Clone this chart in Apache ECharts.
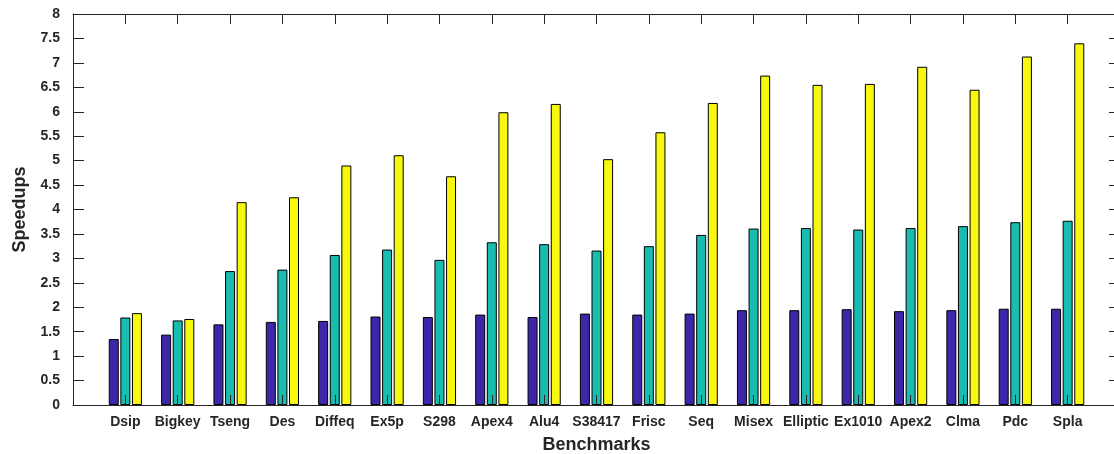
<!DOCTYPE html>
<html>
<head>
<meta charset="utf-8">
<script src="https://cdn.jsdelivr.net/npm/echarts@6/dist/echarts.min.js"></script>
<style>html,body{margin:0;padding:0;background:#fff;}#c{width:1114px;height:454px;}</style>
</head>
<body>
<div id="c"></div>
<script>
const categories = ['Dsip','Bigkey','Tseng','Des','Diffeq','Ex5p','S298','Apex4','Alu4','S38417','Frisc','Seq','Misex','Elliptic','Ex1010','Apex2','Clma','Pdc','Spla'];
const seriesA = [1.35,1.44,1.65,1.70,1.72,1.81,1.80,1.85,1.80,1.87,1.85,1.87,1.94,1.94,1.96,1.92,1.94,1.97,1.97];
const seriesB = [1.79,1.73,2.74,2.77,3.07,3.18,2.97,3.33,3.29,3.16,3.25,3.48,3.61,3.62,3.59,3.62,3.66,3.74,3.77];
const seriesC = [1.88,1.76,4.15,4.25,4.90,5.11,4.68,5.99,6.16,5.03,5.58,6.18,6.74,6.55,6.57,6.92,6.45,7.13,7.40];
const xTitle = 'Benchmarks';
const yTitle = 'Speedups';

// pad one empty slot on each side (x range 0..20, bars at 1..19)
const cats = [''].concat(categories, ['']);
const pad = arr => [null].concat(arr, [null]);

const axisColor = '#262626';
const font = 'Liberation Sans, Arial, Helvetica, sans-serif';
const barStyle = c => ({color: c, borderColor: '#000', borderWidth: 1});

const chart = echarts.init(document.getElementById('c'), null, {renderer: 'canvas'});
chart.setOption({
  animation: false,
  backgroundColor: '#fff',
  grid: {left: 73, top: 14, width: 1047, height: 391, containLabel: false, outerBoundsMode: 'none'},
  xAxis: [{
    type: 'category', data: cats, boundaryGap: false, position: 'bottom', z: 10,
    axisLine: {onZero: false, lineStyle: {color: axisColor, width: 1}},
    axisTick: {inside: true, length: 10, lineStyle: {color: axisColor}, interval: 0},
    axisLabel: {interval: 0, color: axisColor, fontWeight: 'bold', fontSize: 14, fontFamily: font, margin: 10},
    splitLine: {show: false},
    name: xTitle, nameLocation: 'middle', nameGap: 31,
    nameTextStyle: {color: axisColor, fontWeight: 'bold', fontSize: 18, fontFamily: font}
  }, {
    type: 'category', data: cats, boundaryGap: false, position: 'top', z: 10,
    axisLine: {onZero: false, lineStyle: {color: axisColor, width: 1}},
    axisTick: {inside: true, length: 10, lineStyle: {color: axisColor}, interval: 0},
    axisLabel: {show: false}, splitLine: {show: false}
  }],
  yAxis: [{
    type: 'value', min: 0, max: 8, interval: 0.5, position: 'left', z: 10,
    axisLine: {show: true, onZero: false, lineStyle: {color: axisColor, width: 1}},
    axisTick: {show: true, inside: true, length: 11, lineStyle: {color: axisColor}},
    axisLabel: {color: axisColor, fontWeight: 'bold', fontSize: 14, fontFamily: font, margin: 13},
    splitLine: {show: false},
    name: yTitle, nameLocation: 'middle', nameGap: 44, nameRotate: 90,
    nameTextStyle: {color: axisColor, fontWeight: 'bold', fontSize: 18, fontFamily: font}
  }, {
    type: 'value', min: 0, max: 8, interval: 0.5, position: 'right', z: 10,
    axisLine: {show: true, onZero: false, lineStyle: {color: axisColor, width: 1}},
    axisTick: {show: true, inside: true, length: 11, lineStyle: {color: axisColor}},
    axisLabel: {show: false}, splitLine: {show: false}
  }],
  series: [
    {type: 'bar', data: pad(seriesA), barWidth: 10, barGap: '16%', itemStyle: barStyle('#3d27a8')},
    {type: 'bar', data: pad(seriesB), barWidth: 10, barGap: '16%', itemStyle: barStyle('#19bdb0')},
    {type: 'bar', data: pad(seriesC), barWidth: 10, barGap: '16%', itemStyle: barStyle('#f7f70f')}
  ]
});
</script>
</body>
</html>
